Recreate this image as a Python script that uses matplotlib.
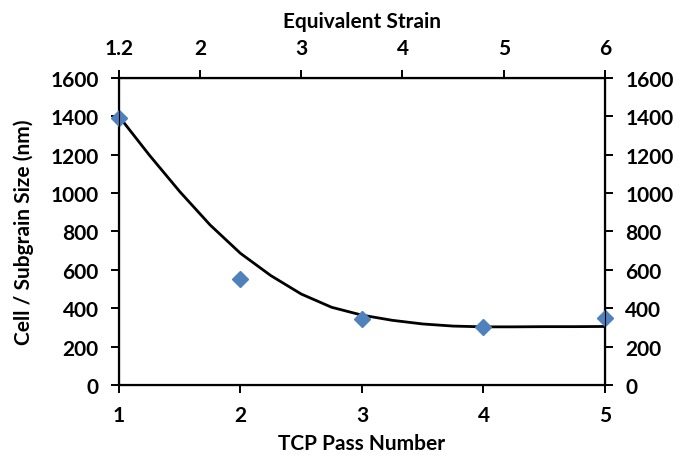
import numpy as np
import matplotlib
matplotlib.use("Agg")
import matplotlib.pyplot as plt

# measured cell / subgrain size after each TCP pass
pass_number = [1, 2, 3, 4, 5]
cell_size = [1390, 550, 345, 300, 350]

# trend line through the measurements
trend_pass = [1.0, 1.25, 1.5, 1.75, 2.0, 2.25, 2.5, 2.75, 3.0, 3.25, 3.5,
              3.75, 4.0, 4.25, 4.5, 4.75, 5.0]
trend_size = [1400, 1198, 1008, 834, 686, 570, 474, 405, 364, 337, 318,
              307, 303, 303, 304, 304, 305]

strain_per_pass = 1.2
strain_ticks = [1.2, 2, 3, 4, 5, 6]
strain_labels = ['1.2', '2', '3', '4', '5', '6']
size_ticks = [0, 200, 400, 600, 800, 1000, 1200, 1400, 1600]

plt.rcParams['font.family'] = ['Lato', 'DejaVu Sans']
plt.rcParams['font.weight'] = 'bold'
plt.rcParams['font.size'] = 15

tick_style = dict(direction='out', length=5.5, width=1.4, pad=9, labelsize=15)

fig = plt.figure(figsize=(6.83, 4.6), dpi=100)
ax = fig.add_axes([0.1742, 0.1609, 0.7116, 0.6674])

ax.plot(trend_pass, trend_size, color='black', lw=2.0, zorder=3,
        solid_joinstyle='round')
ax.plot(pass_number, cell_size, linestyle='none', marker='D', markersize=8.5,
        color='#4F81BD', clip_on=False, zorder=4)

ax.set_xlim(1, 5)
ax.set_ylim(0, 1600)
ax.set_xticks(pass_number)
ax.set_yticks(size_ticks)
ax.set_xlabel('TCP Pass Number', fontsize=15, fontweight='bold', labelpad=6)
ax.set_ylabel('Cell / Subgrain Size (nm)', fontsize=15, fontweight='bold', labelpad=12)

for side in ['left', 'right', 'top', 'bottom']:
    ax.spines[side].set_linewidth(1.6)
ax.tick_params(**tick_style)

# same size scale repeated on the right
ax_r = ax.twinx()
ax_r.set_ylim(0, 1600)
ax_r.set_yticks(size_ticks)
ax_r.tick_params(**tick_style)

# equivalent strain on top
ax_t = ax.secondary_xaxis('top', functions=(lambda x: x * strain_per_pass,
                                            lambda s: s / strain_per_pass))
ax_t.set_xticks(strain_ticks)
ax_t.set_xticklabels(strain_labels)
ax_t.tick_params(**tick_style)
ax_t.set_xlabel('Equivalent Strain', fontsize=15, fontweight='bold', labelpad=8)

fig.savefig('out.png', dpi=100)
